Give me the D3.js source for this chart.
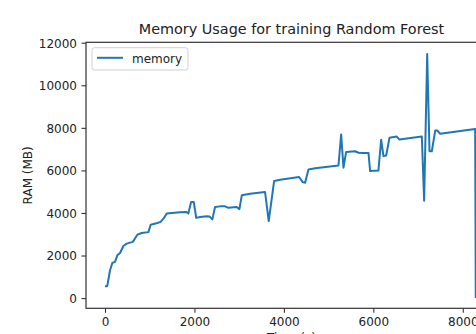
<!DOCTYPE html>
<html>
<head>
<meta charset="utf-8">
<script src="https://cdn.jsdelivr.net/npm/d3@7"></script>
<style>
    body { margin: 0; background: #fff; }
    svg { display: block; font-family: "DejaVu Sans", sans-serif; }
</style>
</head>
<body>
<div id="d3container"></div>
<script>
// Time (s) of each sample
const times = [0, 50, 112, 163, 224, 275, 336, 410, 485, 619, 656, 723, 820, 970, 1022, 1170,
    1245, 1305, 1380, 1678, 1812, 1864, 1924, 1985, 2040, 2125, 2275, 2340, 2400, 2461, 2573,
    2685, 2759, 2945, 3005, 3058, 3244, 3579, 3661, 3781, 3915, 4340, 4420, 4474, 4549, 4700,
    5220, 5280, 5332, 5391, 5593, 5668, 5760, 5891, 5928, 6114, 6174, 6227, 6286, 6361, 6525,
    6585, 7084, 7136, 7204, 7256, 7308, 7383, 7435, 7494, 8277, 8290];

// RAM (MB) at each sample
const memory = [560, 560, 1310, 1650, 1700, 2010, 2120, 2450, 2560, 2640, 2750, 2980, 3060, 3100, 3450, 3530,
    3580, 3730, 3970, 4030, 4050, 3980, 4510, 4510, 3770, 3810, 3840, 3830, 3700, 4280, 4310,
    4310, 4240, 4280, 4180, 4830, 4900, 4980, 3620, 5500, 5560, 5690, 5450, 5420, 6040, 6100,
    6230, 7690, 6130, 6860, 6900, 6830, 6820, 6820, 5970, 6000, 7440, 6670, 6700, 7530, 7590,
    7450, 7590, 4570, 11470, 6900, 6900, 7870, 7870, 7720, 7950, 0];

const xTicks = [0, 2000, 4000, 6000, 8000];
const yTicks = [0, 2000, 4000, 6000, 8000, 10000, 12000];

const data = times.map((t, i) => ({ t: t, m: memory[i] }));

// Chart dimensions (the figure is cropped on the right and bottom)
const width = 476;
const height = 334;
const frame = { left: 86, right: 497, top: 42.3, bottom: 308.3 };

// Scales
const x = d3.scaleLinear()
    .domain([-425, 8765])
    .range([frame.left, frame.right]);

const y = d3.scaleLinear()
    .domain([-480, 12020])
    .range([frame.bottom, frame.top]);

// Create SVG container
const svg = d3.select("#d3container")
    .append("svg")
    .attr("width", width)
    .attr("height", height);

// Clip for the plot area
svg.append("clipPath")
    .attr("id", "plot-clip")
    .append("rect")
    .attr("x", frame.left)
    .attr("y", frame.top)
    .attr("width", frame.right - frame.left)
    .attr("height", frame.bottom - frame.top);

// Add line
svg.append("path")
    .datum(data)
    .attr("clip-path", "url(#plot-clip)")
    .attr("fill", "none")
    .attr("stroke", "#1f77b4")
    .attr("stroke-width", 2)
    .attr("stroke-linejoin", "round")
    .attr("d", d3.line().x(d => x(d.t)).y(d => y(d.m)));

// Frame
svg.append("rect")
    .attr("x", frame.left)
    .attr("y", frame.top)
    .attr("width", frame.right - frame.left)
    .attr("height", frame.bottom - frame.top)
    .attr("fill", "none")
    .attr("stroke", "#333")
    .attr("stroke-width", 1.2);

// Add x-axis
const gx = svg.append("g")
    .attr("transform", `translate(0,${frame.bottom})`)
    .call(d3.axisBottom(x).tickValues(xTicks).tickFormat(d => d).tickSize(4.5).tickPadding(5));

// Add y-axis
const gy = svg.append("g")
    .attr("transform", `translate(${frame.left},0)`)
    .call(d3.axisLeft(y).tickValues(yTicks).tickFormat(d => d).tickSize(4.5).tickPadding(4.5));

[gx, gy].forEach(g => {
    g.select(".domain").remove();
    g.selectAll(".tick line").attr("stroke", "#333").attr("stroke-width", 1.1);
    g.selectAll("text")
        .attr("fill", "#222")
        .style("font-family", "'DejaVu Sans', sans-serif")
        .style("font-size", "12px");
});
gx.selectAll("text").attr("dy", null).attr("y", 17.4);
gy.selectAll("text").attr("dy", "0.36em");

// Add caption
svg.append("text")
    .attr("x", (frame.left + frame.right) / 2)
    .attr("y", 34.4)
    .attr("text-anchor", "middle")
    .attr("font-size", "14.4px")
    .attr("fill", "#222")
    .text("Memory Usage for training Random Forest");

// Axis labels
svg.append("text")
    .attr("transform", `translate(31.5,${(frame.top + frame.bottom) / 2}) rotate(-90)`)
    .attr("text-anchor", "middle")
    .attr("font-size", "12px")
    .attr("fill", "#222")
    .text("RAM (MB)");

svg.append("text")
    .attr("x", (frame.left + frame.right) / 2)
    .attr("y", 341.5)
    .attr("text-anchor", "middle")
    .attr("font-size", "12px")
    .attr("fill", "#222")
    .text("Time (s)");

// Legend
const legend = svg.append("g");
legend.append("rect")
    .attr("x", 92)
    .attr("y", 47.7)
    .attr("width", 96)
    .attr("height", 22.3)
    .attr("rx", 2.5)
    .attr("fill", "#fff")
    .attr("fill-opacity", 0.8)
    .attr("stroke", "#d0d0d0")
    .attr("stroke-width", 1);
legend.append("line")
    .attr("x1", 97)
    .attr("x2", 123)
    .attr("y1", 57.8)
    .attr("y2", 57.8)
    .attr("stroke", "#1f77b4")
    .attr("stroke-width", 2);
legend.append("text")
    .attr("x", 132)
    .attr("y", 62.7)
    .attr("font-size", "12px")
    .attr("fill", "#222")
    .text("memory");
</script>
</body>
</html>
